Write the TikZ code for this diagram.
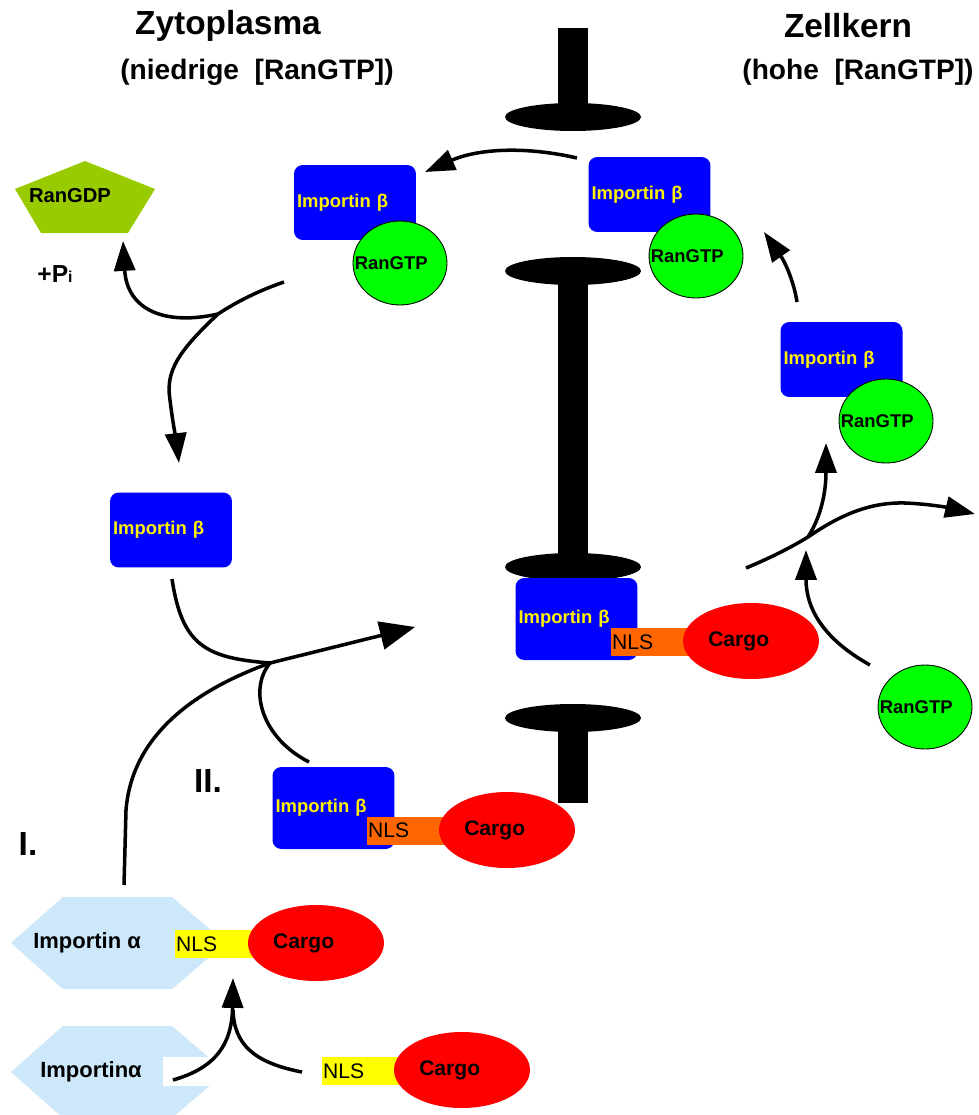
\documentclass[tikz,border=0pt]{standalone}
\usepackage{fontspec}
\setmainfont{Liberation Sans}
\usetikzlibrary{arrows.meta,shapes.geometric}
\definecolor{impblue}{HTML}{0000FF}
\definecolor{rangreen}{HTML}{00FF00}
\definecolor{cargored}{HTML}{FF0000}
\definecolor{nlsorange}{HTML}{FF6600}
\definecolor{nlsyellow}{HTML}{FFFF00}
\definecolor{alphablue}{HTML}{CCE8FA}
\definecolor{gdpgreen}{HTML}{99CC00}

\begin{document}
\begin{tikzpicture}[x=0.02cm,y=-0.02cm,
  arr/.style={line width=2pt,-{Triangle[length=17pt,width=12pt]}},
  bigarr/.style={line width=2pt,-{Triangle[length=20pt,width=16pt]}},
  curve/.style={line width=2pt},
  impb/.style={rectangle,rounded corners=5pt,fill=impblue,text=yellow,
    font=\fontsize{10.5}{12}\selectfont\bfseries,text width=2.32cm,
    inner xsep=0.06cm,inner ysep=0pt,minimum height=1.5cm,align=left},
  rangtp/.style={ellipse,fill=rangreen,draw=black,line width=0.5pt,
    minimum width=1.88cm,minimum height=1.68cm,inner sep=0pt,
    font=\fontsize{10.5}{12}\selectfont\bfseries},
  nls/.style={rectangle,inner xsep=0.5pt,inner ysep=0pt,text width=1.6cm,
    minimum height=0.56cm,align=left,font=\fontsize{12}{14}\selectfont},
  cargo/.style={ellipse,fill=cargored,minimum width=2.72cm,minimum height=1.52cm,
    inner sep=0pt,font=\fontsize{12}{14}\selectfont\bfseries,execute at end node=\kern14pt},
  alphalbl/.style={inner sep=0pt,font=\fontsize{12.5}{14}\selectfont\bfseries},
  title/.style={font=\fontsize{19}{22}\selectfont\bfseries},
  subtitle/.style={font=\fontsize{16}{19}\selectfont\bfseries},
  ]
  \fill[white] (0,0) rectangle (979,1115);
  \useasboundingbox (0,0) rectangle (979,1115);
  \clip (0,0) rectangle (979,1115);

  \node[title] (cyto) at (228,26) {Zytoplasma};
  \node[subtitle] (cytosub) at (257,72) {(niedrige\ \ [RanGTP])};
  \node[title] (kern) at (848,26) {Zellkern};
  \node[subtitle] (kernsub) at (858,72) {(hohe\ \ [RanGTP])};

  % pore
  \fill (558,28) rectangle (588,117);
  \fill (573,117) ellipse [x radius=68,y radius=14];
  \fill (558,271) rectangle (588,567);
  \fill (573,271) ellipse [x radius=68,y radius=14];
  \fill (573,567) ellipse [x radius=68,y radius=14];
  \fill (558,718) rectangle (588,803);
  \fill (573,718) ellipse [x radius=68,y radius=14];

  \fill[gdpgreen] (85,161) -- (155,189) -- (128,233) -- (41,233) -- (15,189) -- cycle;
  \node[font=\fontsize{11.5}{13}\selectfont\bfseries] (gdp) at (70,196) {RanGDP};
  \node[font=\fontsize{14}{16}\selectfont\bfseries] (pi) at (55,274) {+P{\fontsize{9}{10}\selectfont i}};

  \node[impb] (ib1) at (355,202.5) {Importin β};
  \node[rangtp] (ran1) at (400,263) {\makebox[0pt]{RanGTP\kern10pt}};
  \node[impb] (ib2) at (649.5,194.5) {Importin β};
  \node[rangtp] (ran2) at (696,256) {\makebox[0pt]{RanGTP\kern10pt}};
  \node[impb] (ib3) at (841.5,359.5) {Importin β};
  \node[rangtp] (ran3) at (886,421) {\makebox[0pt]{RanGTP\kern10pt}};
  \node[impb] (ib4) at (171,530) {Importin β};
  \node[rangtp] (ran4) at (925,707) {\makebox[0pt]{RanGTP\kern10pt}};

  \node[impb,minimum height=1.64cm] (ib5) at (576.5,619) {Importin β};
  \node[nls,fill=nlsorange,anchor=west] (nls5) at (611,642) {NLS};
  \node[cargo] (cargo5) at (751,641) {Cargo};

  \node[impb,minimum height=1.64cm] (ib6) at (333.5,808) {Importin β};
  \node[nls,fill=nlsorange,anchor=west] (nls6) at (367,830.5) {NLS};
  \node[cargo] (cargo6) at (507,830) {Cargo};

  \fill[alphablue] (11,943) -- (63,897) -- (172,897) -- (226,943) -- (172,989) -- (63,989) -- cycle;
  \node[alphalbl,anchor=west] (ia1) at (33,943) {Importin α};
  \node[nls,fill=nlsyellow,anchor=west] (nls7) at (175,944) {NLS};
  \node[cargo] (cargo7) at (316,943) {Cargo};

  \fill[alphablue] (11,1072) -- (63,1026) -- (172,1026) -- (226,1072) -- (172,1118) -- (63,1118) -- cycle;
  \fill[white] (163,1057) rectangle (230,1086);
  \node[alphalbl,anchor=west] (ia2) at (40,1072) {Importinα};
  \node[nls,fill=nlsyellow,anchor=west] (nls8) at (322,1071) {NLS};
  \node[cargo] (cargo8) at (462,1070) {Cargo};

  \node[font=\fontsize{19}{22}\selectfont\bfseries] (one) at (28,844) {I.};
  \node[font=\fontsize{19}{22}\selectfont\bfseries] (two) at (208,781) {II.};

  \coordinate (ja) at (218,314);
  \coordinate (jb) at (270,663);
  \coordinate (jc) at (808,537);
  \coordinate (jd) at (233,1010);

  \draw[arr] (577,158) .. controls (520,145) and (475,150) .. (425,172);
  \draw[curve] (284,282) .. controls (255,292) and (235,303) .. (ja);
  \draw[arr] (ja) .. controls (180,350) and (165,370) .. (170,400) .. controls (173,425) and (177,445) .. (179,463);
  \draw[arr] (ja) .. controls (165,326) and (127,310) .. (123,241);

  \draw[curve] (172,579) .. controls (182,645) and (205,658) .. (jb);
  \draw[bigarr] (124,885) -- (126,810) .. controls (132,735) and (195,690) .. (jb) -- (415,627);
  \draw[curve] (309,762) .. controls (262,738) and (248,690) .. (jb);

  \draw[arr] (746,568) .. controls (770,558) and (790,548) .. (jc) .. controls (840,515) and (870,502) .. (905,503) .. controls (930,504) and (950,508) .. (975,514);
  \draw[arr] (jc) .. controls (822,515) and (826,490) .. (826,443);
  \draw[arr] (870,665) .. controls (825,640) and (806,610) .. (806,550);
  \draw[arr] (797,302) .. controls (794,282) and (785,262) .. (764,232);

  \draw[arr] (173,1080) .. controls (215,1068) and (232,1045) .. (233,978);
  \draw[curve] (302,1072) .. controls (255,1063) and (234,1045) .. (jd);
\end{tikzpicture}
\end{document}
